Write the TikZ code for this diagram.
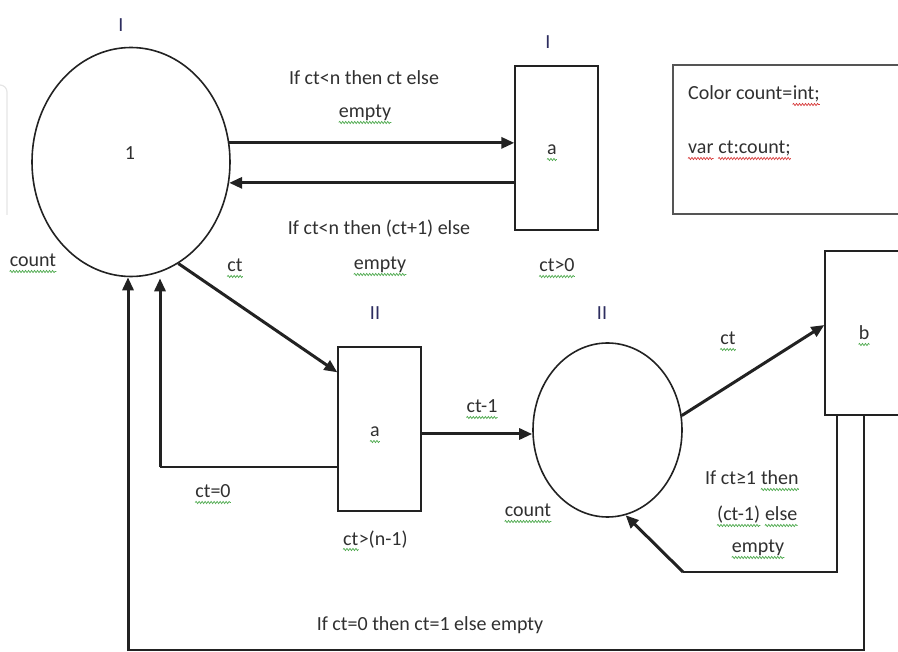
\documentclass[tikz,border=0pt]{standalone}
\usepackage{fontspec}
\setmainfont{Carlito}
\usetikzlibrary{shapes.geometric,arrows.meta,decorations.pathmorphing}

\definecolor{ink}{HTML}{222222}
\definecolor{txtc}{HTML}{303030}
\definecolor{navy}{RGB}{45,45,95}
\definecolor{wgreen}{RGB}{80,170,80}
\definecolor{wred}{RGB}{215,60,60}
\definecolor{boxc}{HTML}{555555}

\begin{document}
\begin{tikzpicture}[x=1pt,y=-1pt,
  lbl/.style={font=\fontsize{20}{24}\selectfont, text=txtc, inner sep=0pt, anchor=base},
  roman/.style={lbl, text=navy},
  wavy/.style={draw=#1, line width=0.7pt, decorate,
               decoration={snake, amplitude=1.1pt, segment length=3pt}},
  gw/.style={append after command={([yshift=-4.5pt]\tikzlastnode.base west)
             edge[wavy=wgreen] ([yshift=-4.5pt]\tikzlastnode.base east)}},
  rw/.style={append after command={([yshift=-4.5pt]\tikzlastnode.base west)
             edge[wavy=wred] ([yshift=-4.5pt]\tikzlastnode.base east)}},
  place/.style={draw=ink, line width=1.6pt, ellipse, inner sep=0pt},
  trans/.style={draw=ink, line width=1.3pt, rectangle, minimum width=83pt,
                minimum height=164pt, inner sep=0pt},
  arc/.style={draw=ink, line width=3pt, -{Triangle[length=13pt,width=11pt]}},
  link/.style={draw=ink, line width=1.2pt}
]
\useasboundingbox (0,0) rectangle (898,652);
\clip (0,0) rectangle (898,652);

% faint frame at the left edge
\draw[black!10, line width=1.2pt, rounded corners=7pt] (-20,85) -- (7,85) -- (7,215);

% places
\node[place, minimum width=198pt, minimum height=229pt] (p1) at (131,162) {};
\node[place, minimum width=149pt, minimum height=174pt] (p2) at (607.5,430) {};

% transitions
\node[trans] (ta1) at (556.5,148) {};
\node[trans] (ta2) at (379.5,429) {};
\node[trans] (tb)  at (866.5,333) {};

% declarations
\node[draw=boxc, line width=1.3pt, minimum width=257pt, minimum height=149pt, inner sep=0pt]
  (decl) at (801.5,139.5) {};
\node[lbl, anchor=base west] (d1) at (688,100) {Color count=};
\node[lbl, anchor=base west, rw] (d1b) at (d1.base east) {int;};
\node[lbl, anchor=base west, rw] (d2) at (688,154) {var};
\node[lbl, anchor=base west, rw] (d2b) at ([xshift=4.5pt]d2.base east) {ct:count;};

% labels of place I and transition a (I)
\node[roman] (n1) at (121,32) {I};
\node[lbl] (m1) at (130,160) {1};
\node[lbl, gw] (c1) at (33,267) {count};
\node[roman] (n2) at (548,49) {I};
\node[lbl, gw] (a1) at (552,155) {a};
\node[lbl, gw] (g1) at (557,272) {ct>0};

% labels of transition a (II), place II, transition b
\node[roman] (n3) at (375,320) {II};
\node[lbl, gw] (a2) at (375,437) {a};
\node[lbl, gw, anchor=base west] (g2) at (343,545) {ct};
\node[lbl, anchor=base west] (g2b) at (g2.base east) {>(n-1)};
\node[roman] (n4) at (602,320) {II};
\node[lbl, gw] (c2) at (528,517) {count};
\node[lbl, gw] (b1) at (864,340) {b};

% arc inscriptions
\node[lbl] (e1) at (364,85) {If ct<n then ct else};
\node[lbl, gw] (e1b) at (365,118) {empty};
\node[lbl] (e2) at (379,235) {If ct<n then (ct+1) else};
\node[lbl, gw] (e2b) at (380,270) {empty};
\node[lbl, gw] (e3) at (235,272) {ct};
\node[lbl, gw] (e4) at (482,413) {ct-1};
\node[lbl, gw] (e5) at (213,498) {ct=0};
\node[lbl, gw] (e6) at (728,345) {ct};
\node[lbl, anchor=base west] (e7) at (705,485) {If ct≥1};
\node[lbl, gw, anchor=base west] (e7t) at ([xshift=4.5pt]e7.base east) {then};
\node[lbl, gw, anchor=base west] (e7b) at (717,521) {(ct-1)};
\node[lbl, gw, anchor=base west] (e7e) at ([xshift=4.5pt]e7b.base east) {else};
\node[lbl, gw] (e7c) at (758,553) {empty};
\node[lbl] (e8) at (430,630) {If ct=0 then ct=1 else empty};

% bend points
\coordinate (r1) at (160,467);
\coordinate (r2) at (864,650);
\coordinate (r3) at (128,650);
\coordinate (r4) at (837,572);
\coordinate (r5) at (683,572);

% arcs
\draw[arc] (p1.11.6) -- (ta1.west |- p1.11.6);
\draw[arc] (ta1.west |- p1.-12.2) -- (p1.-12.2);
\draw[arc] (p1.-65.5) -- ([yshift=-26pt]ta2.north west);
\draw[arc] ([yshift=-5pt]ta2.east) -- ([yshift=-4pt]p2.west);
\draw[link] (ta2.west |- r1) -- (r1);
\draw[arc, shorten >=1pt] (r1) -- (r1 |- p1.south);
\draw[arc] (p2.11.4) -- ([yshift=8pt]tb.west);
\draw[link] (tb.south -| r4) -- (r4) -- (r5);
\draw[arc] (r5) -- (p2.-78.5);
\draw[link] (tb.south -| r2) -- (r2) -- (r3);
\draw[arc] ([yshift=-1pt]r3) -- (r3 |- p1.south);
\end{tikzpicture}
\end{document}
